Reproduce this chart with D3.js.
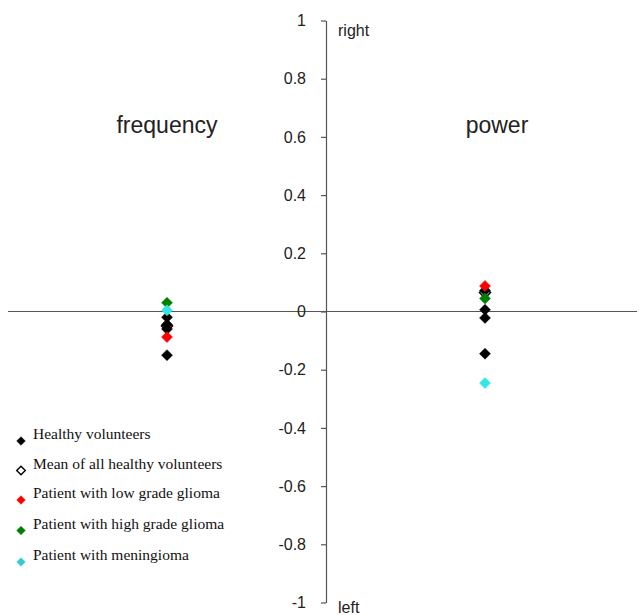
<!DOCTYPE html>
<html>
<head>
<meta charset="utf-8">
<script src="https://cdn.jsdelivr.net/npm/d3@7"></script>
<style>
  body { margin: 0; background: #fff; }
  svg { display: block; }
</style>
</head>
<body>
<div id="chart"></div>
<script>
"use strict";
// measures on the x axis
var categories = ["frequency", "power"];

// series values, one array per measure [frequency, power]
var healthy = [[-0.02, -0.045, -0.06, -0.15], [0.072, 0.006, -0.022, -0.145]];
var meanHealthy = [-0.05, 0.065];
var lowGrade = [-0.088, 0.088];
var highGrade = [0.03, 0.045];
var meningioma = [0.004, -0.246];

var yTicks = [-1, -0.8, -0.6, -0.4, -0.2, 0, 0.2, 0.4, 0.6, 0.8, 1];

var legendLabels = [
  "Healthy volunteers",
  "Mean of all healthy volunteers",
  "Patient with low grade glioma",
  "Patient with high grade glioma",
  "Patient with meningioma"
];

var w = 639,
  h = 615;

var svg = d3
  .select("#chart")
  .append("svg")
  .attr("width", w)
  .attr("height", h);

var y = d3.scaleLinear().domain([-1, 1]).range([602.5, 20.5]);
var x = d3.scalePoint().domain(categories).range([167, 485]);
var axisX = 326;

//diamond path centred on 0,0
function diamond(r) {
  return "M0," + -r + "L" + r + ",0L0," + r + "L" + -r + ",0Z";
}

//horizontal zero line
svg
  .append("line")
  .attr("x1", 8)
  .attr("x2", 637)
  .attr("y1", y(0))
  .attr("y2", y(0))
  .attr("stroke", "#555")
  .attr("stroke-width", 1.2);

//vertical axis
var yAxis = svg
  .append("g")
  .attr("transform", "translate(" + axisX + ",0)")
  .call(
    d3
      .axisLeft(y)
      .tickValues(yTicks)
      .tickSize(5)
      .tickPadding(15)
      .tickSizeOuter(0)
      .tickFormat(function(d) {
        return String(Math.round(d * 10) / 10);
      })
  );
yAxis.select(".domain").attr("stroke", "#555").attr("stroke-width", 1.2);
yAxis.selectAll(".tick line").attr("stroke", "#555").attr("stroke-width", 1.2);
yAxis
  .selectAll(".tick text")
  .attr("font-family", "Liberation Sans, Arial, sans-serif")
  .attr("font-size", 16)
  .attr("fill", "#222");

svg
  .append("text")
  .attr("x", 338)
  .attr("y", 36)
  .attr("font-family", "Liberation Sans, Arial, sans-serif")
  .attr("font-size", 16)
  .attr("fill", "#222")
  .text("right");

svg
  .append("text")
  .attr("x", 338)
  .attr("y", 613)
  .attr("font-family", "Liberation Sans, Arial, sans-serif")
  .attr("font-size", 16)
  .attr("fill", "#222")
  .text("left");

//category labels
svg
  .selectAll(".cat")
  .data(categories)
  .enter()
  .append("text")
  .attr("class", "cat")
  .attr("x", function(d, i) {
    return x(d) + (i === 1 ? 12 : 0);
  })
  .attr("y", 133)
  .attr("text-anchor", "middle")
  .attr("font-family", "Liberation Sans, Arial, sans-serif")
  .attr("font-size", 23)
  .attr("fill", "#222")
  .text(function(d) {
    return d;
  });

//build point list in plotting order
var points = [];
categories.forEach(function(c, i) {
  points.push({ c: c, v: meanHealthy[i], s: 1 });
  healthy[i].forEach(function(v) {
    points.push({ c: c, v: v, s: 0 });
  });
  points.push({ c: c, v: lowGrade[i], s: 2 });
  points.push({ c: c, v: highGrade[i], s: 3 });
  points.push({ c: c, v: meningioma[i], s: 4 });
});

var fills = ["#000", "#fff", "#ff0000", "#008000", "#33e6e6"];
var strokes = ["#000", "#000", "#ff0000", "#008000", "#33e6e6"];

svg
  .append("g")
  .selectAll("path")
  .data(points)
  .enter()
  .append("path")
  .attr("d", diamond(5.5))
  .attr("transform", function(d) {
    return "translate(" + x(d.c) + "," + y(d.v) + ")";
  })
  .attr("fill", function(d) {
    return fills[d.s];
  })
  .attr("stroke", function(d) {
    return strokes[d.s];
  })
  .attr("stroke-width", function(d) {
    return d.s === 1 ? 1.5 : 0.5;
  });

//legend
var legendColors = ["#000", "#fff", "#ff0000", "#008000", "#33cccc"];
var legendY = [441, 470.5, 500, 530.5, 562];
var lg = svg
  .append("g")
  .selectAll("g")
  .data(legendLabels)
  .enter()
  .append("g")
  .attr("transform", function(d, i) {
    return "translate(21," + legendY[i] + ")";
  });

lg.append("path")
  .attr("d", diamond(4.3))
  .attr("fill", function(d, i) {
    return legendColors[i];
  })
  .attr("stroke", function(d, i) {
    return i === 1 ? "#000" : legendColors[i];
  })
  .attr("stroke-width", function(d, i) {
    return i === 1 ? 1.4 : 0.5;
  });

lg.append("text")
  .attr("x", 12)
  .attr("y", -2)
  .attr("font-family", "Liberation Serif, Times New Roman, serif")
  .attr("font-size", 15.5)
  .attr("fill", "#111")
  .text(function(d) {
    return d;
  });
</script>
</body>
</html>
